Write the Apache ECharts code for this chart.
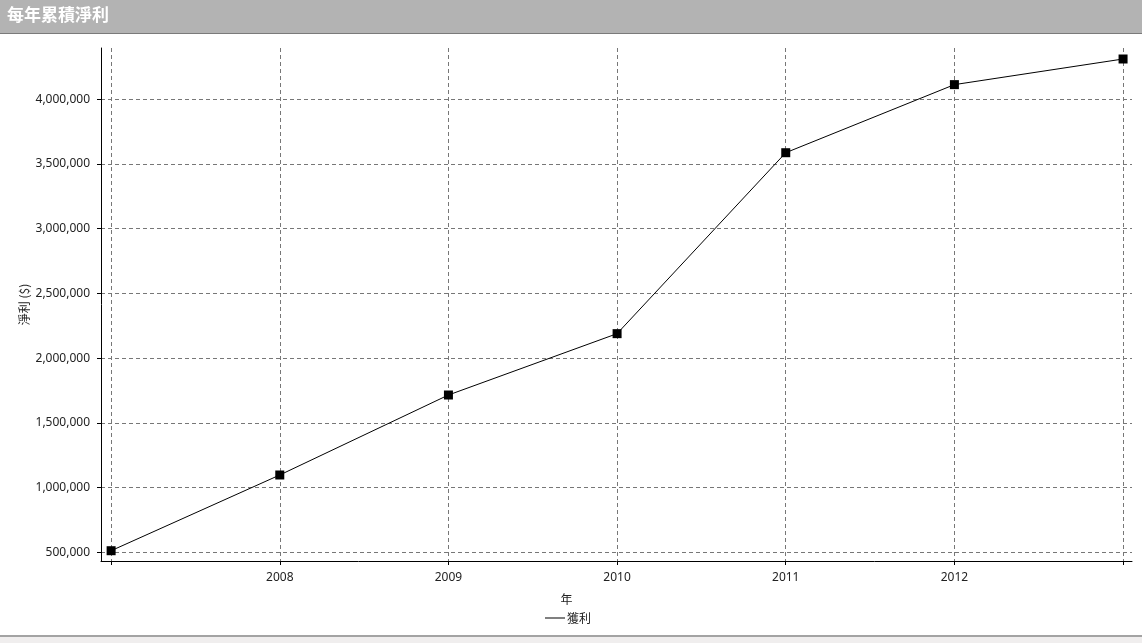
<!DOCTYPE html>
<html>
<head>
<meta charset="utf-8">
<script src="https://cdn.jsdelivr.net/npm/echarts@6/dist/echarts.min.js"></script>
<style>
html,body{margin:0;padding:0;background:#fff;}
#c{width:1142px;height:643px;}
</style>
</head>
<body>
<div id="c"></div>
<script>
const years = [2007, 2008, 2009, 2010, 2011, 2012, 2013];
const profit = [512000, 1097000, 1715000, 2189000, 3587000, 4113000, 4311000];
const yTicks = [500000, 1000000, 1500000, 2000000, 2500000, 3000000, 3500000, 4000000];
const xLabelYears = [2008, 2009, 2010, 2011, 2012];
const titleText = '每年累積淨利';
const seriesName = '獲利';

const FONT = '"Noto Sans", "Noto Sans CJK TC", sans-serif';
const CJK = '"Noto Sans CJK TC", sans-serif';
const chart = echarts.init(document.getElementById('c'), null, {renderer: 'canvas'});
chart.setOption({
  animation: false,
  backgroundColor: '#ffffff',
  textStyle: {fontFamily: FONT},
  graphic: [
    {type: 'rect', left: 0, top: 0, shape: {width: 1142, height: 33}, style: {fill: '#b3b3b3'}, silent: true},
    {type: 'rect', left: 0, top: 33, shape: {width: 1142, height: 1}, style: {fill: '#7a7a7a'}, silent: true},
    {type: 'text', left: 7, top: 6, style: {text: titleText, fill: '#ffffff', font: 'bold 17px "Noto Sans CJK TC", sans-serif'}, silent: true},
    {type: 'rect', left: 0, top: 635, shape: {width: 1142, height: 2}, style: {fill: '#a3a3a3'}, silent: true},
    {type: 'rect', left: 0, top: 637, shape: {width: 1142, height: 6}, style: {fill: '#f0eeee'}, silent: true}
  ],
  grid: {left: 101, right: 10, top: 48, bottom: 82, containLabel: false},
  legend: {
    bottom: 14,
    left: 540,
    data: [seriesName],
    icon: 'rect',
    itemWidth: 20,
    itemHeight: 1,
    itemStyle: {color: '#000'},
    textStyle: {fontSize: 12, color: '#222', fontFamily: CJK, padding: [0, 0, 0, -3]}
  },
  xAxis: {
    type: 'value',
    min: 2006.94,
    max: 2013.053,
    name: '年',
    nameLocation: 'middle',
    nameGap: 32,
    nameMoveOverlap: false,
    nameTextStyle: {fontSize: 12, color: '#222', fontFamily: CJK, padding: [0, 100, 0, 0]},
    axisLine: {show: true, lineStyle: {color: '#000', width: 1}},
    axisTick: {show: true, length: 4, lineStyle: {color: '#000'}, customValues: years},
    axisLabel: {customValues: xLabelYears, fontSize: 12, color: '#222', margin: 11, formatter: v => String(v)},
    splitLine: {show: true, lineStyle: {color: '#777', type: [4, 3], width: 1}}
  },
  yAxis: {
    type: 'value',
    min: 432500,
    max: 4396000,
    name: '淨利 ($)',
    nameLocation: 'middle',
    nameRotate: 90,
    nameGap: 71,
    nameMoveOverlap: false,
    nameTextStyle: {fontSize: 12, color: '#222', fontFamily: CJK},
    axisLine: {show: true, lineStyle: {color: '#000', width: 1}},
    axisTick: {show: true, length: 4, lineStyle: {color: '#000'}, customValues: yTicks},
    axisLabel: {customValues: yTicks, fontSize: 12, color: '#222', margin: 11,
      formatter: v => Math.round(v).toLocaleString('en-US')},
    splitLine: {show: true, lineStyle: {color: '#777', type: [4, 3], width: 1}}
  },
  series: [{
    name: seriesName,
    type: 'line',
    data: years.map((y, i) => [y, profit[i]]),
    symbol: 'rect',
    symbolSize: 9,
    itemStyle: {color: '#000'},
    lineStyle: {color: '#000', width: 1},
    clip: false
  }]
});
</script>
</body>
</html>
